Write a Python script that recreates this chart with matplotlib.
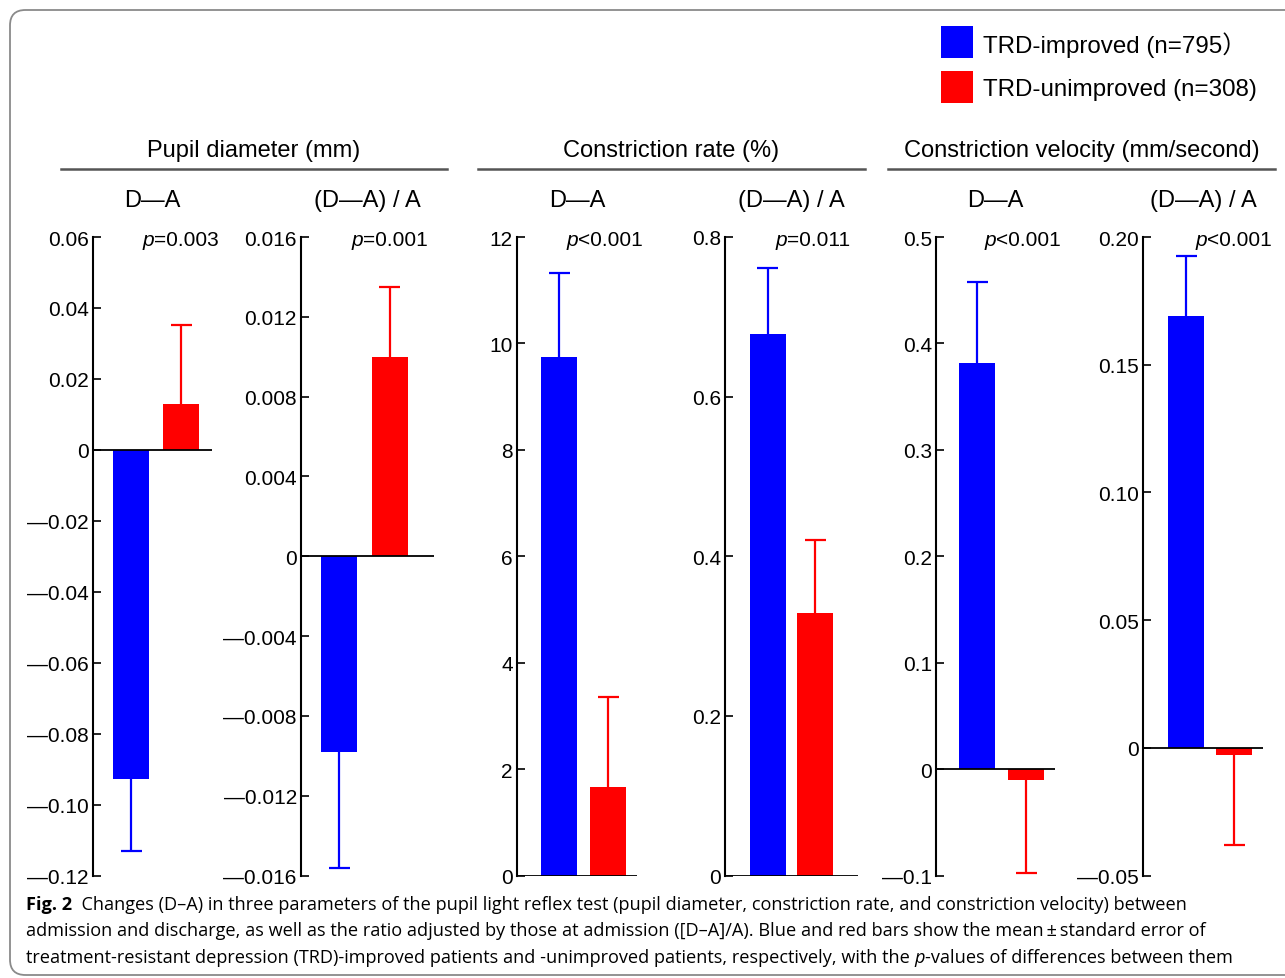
import matplotlib
matplotlib.use("Agg")
import matplotlib.pyplot as plt
from matplotlib.patches import FancyBboxPatch, Rectangle
from matplotlib.lines import Line2D

# ---------------- data ----------------
group_titles = ["Pupil diameter (mm)", "Constriction rate (%)", "Constriction velocity (mm/second)"]
panel_titles = ["D\u2014A", "(D\u2014A) / A", "D\u2014A", "(D\u2014A) / A", "D\u2014A", "(D\u2014A) / A"]
p_values = ["=0.003", "=0.001", "<0.001", "=0.011", "<0.001", "<0.001"]
series_names = ["TRD-improved (n=795\uff09", "TRD-unimproved (n=308)"]

improved_mean = [-0.0927, -0.0098, 9.75, 0.678, 0.382, 0.169]
improved_se = [0.0203, 0.0058, 1.58, 0.083, 0.076, 0.0236]
unimproved_mean = [0.0128, 0.0100, 1.66, 0.329, -0.0099, -0.0028]
unimproved_se = [0.0224, 0.0035, 1.69, 0.091, 0.0874, 0.0352]

y_ticks = [
    [0.06, 0.04, 0.02, 0, -0.02, -0.04, -0.06, -0.08, -0.10, -0.12],
    [0.016, 0.012, 0.008, 0.004, 0, -0.004, -0.008, -0.012, -0.016],
    [12, 10, 8, 6, 4, 2, 0],
    [0.8, 0.6, 0.4, 0.2, 0],
    [0.5, 0.4, 0.3, 0.2, 0.1, 0, -0.1],
    [0.20, 0.15, 0.10, 0.05, 0, -0.05],
]
y_ticklabels = [
    ["0.06", "0.04", "0.02", "0", "\u20140.02", "\u20140.04", "\u20140.06", "\u20140.08", "\u20140.10", "\u20140.12"],
    ["0.016", "0.012", "0.008", "0.004", "0", "\u20140.004", "\u20140.008", "\u20140.012", "\u20140.016"],
    ["12", "10", "8", "6", "4", "2", "0"],
    ["0.8", "0.6", "0.4", "0.2", "0"],
    ["0.5", "0.4", "0.3", "0.2", "0.1", "0", "\u20140.1"],
    ["0.20", "0.15", "0.10", "0.05", "0", "\u20140.05"],
]
colors = ["#0000FF", "#FF0000"]

caption_lines = [
    [("Fig. 2", "bold", "normal"), ("  Changes (D\u2013A) in three parameters of the pupil light reflex test (pupil diameter, constriction rate, and constriction velocity) between", "normal", "normal")],
    [("admission and discharge, as well as the ratio adjusted by those at admission ([D\u2013A]/A). Blue and red bars show the mean\u2009\u00b1\u2009standard error of", "normal", "normal")],
    [("treatment-resistant depression (TRD)-improved patients and -unimproved patients, respectively, with the ", "normal", "normal"), ("p", "normal", "italic"), ("-values of differences between them", "normal", "normal")],
]

# ---------------- layout (pixels) ----------------
W, H = 1285, 979
fig = plt.figure(figsize=(W / 100, H / 100), dpi=100)
plt.rcParams["font.family"] = ["Liberation Sans", "DejaVu Sans"]

def fx(px):
    return px / W

def fy(py):
    return 1 - py / H

# rounded frame
frame = FancyBboxPatch((fx(10), fy(976)), fx(1320) - fx(10), fy(11) - fy(976),
                       boxstyle="round,pad=0,rounding_size=0.012",
                       transform=fig.transFigure, facecolor="none",
                       edgecolor="#8a8a8a", linewidth=1.3, mutation_aspect=W / H)
fig.patches.append(frame)

axis_px = [(93, 212), (301, 434), (517, 637), (725, 858), (936, 1055), (1143, 1263)]
bar_px = [(131, 181), (339, 389.5), (559, 608), (767.5, 815), (977, 1026), (1186, 1234)]
bar_w_px = 36
cap_half_px = 10.5
top_px, bot_px = 238, 876.5
p_center_px = [180, 389.5, 604, 813.5, 1022, 1233]

for i in range(6):
    l, r = axis_px[i]
    ax = fig.add_axes([fx(l), fy(bot_px), fx(r) - fx(l), fy(top_px) - fy(bot_px)])
    c0, c1 = bar_px[i]
    sp = c1 - c0
    ax.set_xlim((l - c0) / sp, (r - c0) / sp)
    ax.set_ylim(y_ticks[i][-1], y_ticks[i][0])
    w = bar_w_px / sp
    cw = cap_half_px / sp
    means = [improved_mean[i], unimproved_mean[i]]
    ses = [improved_se[i], unimproved_se[i]]
    for k in range(2):
        ax.bar(k, means[k], width=w, color=colors[k], zorder=2, linewidth=0)
        end = means[k] + ses[k] if means[k] >= 0 else means[k] - ses[k]
        ax.vlines(k, means[k], end, color=colors[k], linewidth=1.6, zorder=1)
        ax.hlines(end, k - cw, k + cw, color=colors[k], linewidth=1.6, zorder=1)
    ax.axhline(0, color="black", linewidth=1.3, zorder=3)
    for s in ["top", "right", "bottom"]:
        ax.spines[s].set_visible(False)
    ax.spines["left"].set_linewidth(1.5)
    ax.set_xticks([])
    ax.set_yticks(y_ticks[i])
    ax.set_yticklabels(y_ticklabels[i])
    ax.tick_params(axis="y", direction="in", length=6, width=1.2, pad=3, labelsize=15)
    ax.set_facecolor("none")
    # panel subtitle
    fig.text((fx(l) + fx(r)) / 2, fy(201), panel_titles[i], ha="center", va="center", fontsize=17)
    # p value
    fig.text(fx(p_center_px[i] - 26), fy(240), "p", style="italic", ha="right", va="center", fontsize=15)
    fig.text(fx(p_center_px[i] - 26), fy(240), p_values[i], ha="left", va="center", fontsize=15)

# group titles and underlines
group_line_px = [(61, 447), (478, 865), (888, 1275)]
for g in range(3):
    a, b = group_line_px[g]
    fig.text(fx((a + b) / 2), fy(151), group_titles[g], ha="center", va="center", fontsize=17)
    fig.add_artist(Line2D([fx(a), fx(b)], [fy(170), fy(170)], color="#555555", linewidth=1.8,
                          transform=fig.transFigure))

# legend
leg_y = [43, 88]
for k in range(2):
    fig.patches.append(Rectangle((fx(941), fy(leg_y[k] + 16)), fx(32), fy(0) - fy(32),
                                 transform=fig.transFigure, facecolor=colors[k], edgecolor="none"))
    fig.text(fx(983), fy(leg_y[k] + 2), series_names[k], ha="left", va="center", fontsize=17.4,
             family=["Liberation Sans", "Noto Sans CJK SC"])

# caption
fig.canvas.draw()
renderer = fig.canvas.get_renderer()
cap_y = [905, 931, 958]
for li, line in enumerate(caption_lines):
    x = fx(26)
    for txt, weight, style in line:
        t = fig.text(x, fy(cap_y[li]), txt, ha="left", va="center", fontsize=13.05,
                     family=["Open Sans", "DejaVu Sans"], weight=weight, style=style)
        bb = t.get_window_extent(renderer)
        x = bb.x1 / W

fig.savefig("out.png", dpi=100)
